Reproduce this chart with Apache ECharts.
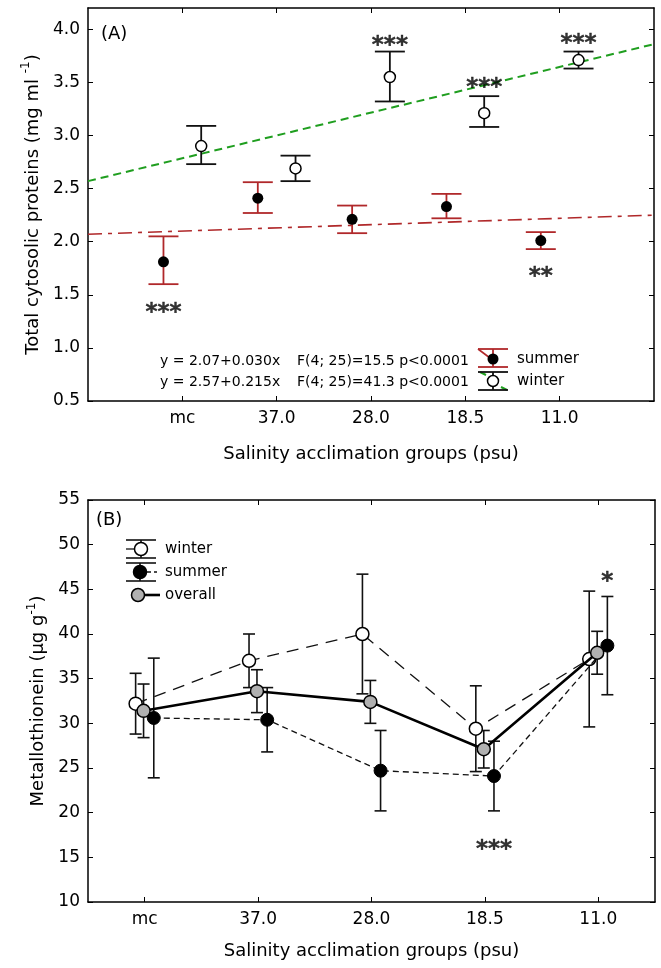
<!DOCTYPE html>
<html>
<head>
<meta charset="utf-8">
<script src="https://cdn.jsdelivr.net/npm/echarts@6/dist/echarts.min.js"></script>
<style>
  html, body { margin: 0; padding: 0; background: #fff; }
  #chart { width: 661px; height: 968px; }
</style>
</head>
<body>
<div id="chart"></div>
<script>
// Salinity acclimation groups (psu)
const categories = ['mc', '37.0', '28.0', '18.5', '11.0'];

// (A) Total cytosolic proteins, mg ml-1: group means with error bar ends
const proteinSummerMean = [1.81, 2.41, 2.21, 2.33, 2.01];
const proteinSummerLow  = [1.60, 2.27, 2.08, 2.22, 1.93];
const proteinSummerHigh = [2.05, 2.56, 2.34, 2.45, 2.09];
const proteinWinterMean = [2.90, 2.69, 3.55, 3.21, 3.71];
const proteinWinterLow  = [2.73, 2.57, 3.32, 3.08, 3.63];
const proteinWinterHigh = [3.09, 2.81, 3.79, 3.37, 3.79];

// (A) Linear fits y = a + b x (x = 1 for mc ... 5 for 11.0)
const fitIntercept = [2.07, 2.57];   // summer, winter
const fitSlope     = [0.030, 0.215]; // summer, winter
const fitLabels = ['y = 2.07+0.030x', 'y = 2.57+0.215x'];
const fitStats  = ['F(4; 25)=15.5 p<0.0001', 'F(4; 25)=41.3 p<0.0001'];

// (A) significance marks
const proteinSummerStars = ['***', '', '', '', '**'];
const proteinSummerStarY = [1.38, null, null, null, 1.72];
const proteinWinterStars = ['', '', '***', '***', '***'];
const proteinWinterStarY = [null, null, 3.90, 3.50, 3.92];

// (B) Metallothionein, ug g-1: means and error half-widths
const mtWinterMean  = [32.2, 37.0, 40.0, 29.4, 37.2];
const mtWinterErr   = [3.4, 3.0, 6.7, 4.8, 7.6];
const mtSummerMean  = [30.6, 30.4, 24.7, 24.1, 38.7];
const mtSummerErr   = [6.7, 3.6, 4.5, 3.9, 5.5];
const mtOverallMean = [31.4, 33.6, 32.4, 27.1, 37.9];
const mtOverallErr  = [3.0, 2.4, 2.4, 2.1, 2.4];

// (B) significance marks
const mtStars = ['', '', '', '***', '*'];
const mtStarY = [null, null, null, 16.5, 46.5];

// Tick values
const proteinTicks = [0.5, 1.0, 1.5, 2.0, 2.5, 3.0, 3.5, 4.0];
const mtTicks = [10, 15, 20, 25, 30, 35, 40, 45, 50, 55];

const FONT = '"DejaVu Sans", sans-serif';
const RED = '#b0282a';
const GREEN = '#1f9e1f';

function errorBars(xi, yi, data, color, capHalf, width, z) {
  return {
    type: 'custom', xAxisIndex: xi, yAxisIndex: yi, z: z, silent: true,
    encode: { x: 0, y: [1, 2] },
    data: data,
    renderItem: function (params, api) {
      const x = api.value(0);
      const lo = api.coord([x, api.value(1)]);
      const hi = api.coord([x, api.value(2)]);
      const st = { stroke: color, lineWidth: width, fill: null };
      return {
        type: 'group',
        children: [
          { type: 'line', shape: { x1: lo[0], y1: lo[1], x2: hi[0], y2: hi[1] }, style: st },
          { type: 'line', shape: { x1: lo[0] - capHalf, y1: lo[1], x2: lo[0] + capHalf, y2: lo[1] }, style: st },
          { type: 'line', shape: { x1: hi[0] - capHalf, y1: hi[1], x2: hi[0] + capHalf, y2: hi[1] }, style: st }
        ]
      };
    }
  };
}

function starSeries(xi, yi, items, z) {
  return {
    type: 'scatter', xAxisIndex: xi, yAxisIndex: yi, z: z, silent: true,
    symbolSize: 2, itemStyle: { color: 'rgba(0,0,0,0)' },
    label: {
      show: true, position: 'inside', formatter: '{b}', offset: [0, 6],
      fontFamily: FONT, fontSize: 23, fontWeight: 'bold', color: '#000',
      textBorderWidth: 0.4, textBorderColor: '#000'
    },
    data: items
  };
}

const offA = 0.2;   // summer left, winter right of each group
const offB = [-0.08, 0.08, -0.01]; // winter, summer, overall

// Panel A series data
const aSummerBars = categories.map((c, i) => [i + 1 - offA, proteinSummerLow[i], proteinSummerHigh[i]]);
const aWinterBars = categories.map((c, i) => [i + 1 + offA, proteinWinterLow[i], proteinWinterHigh[i]]);
const aSummerPts = categories.map((c, i) => [i + 1 - offA, proteinSummerMean[i]]);
const aWinterPts = categories.map((c, i) => [i + 1 + offA, proteinWinterMean[i]]);
const aStars = [];
categories.forEach((c, i) => {
  if (proteinSummerStars[i]) aStars.push({ name: proteinSummerStars[i], value: [i + 1 - offA, proteinSummerStarY[i]] });
  if (proteinWinterStars[i]) aStars.push({ name: proteinWinterStars[i], value: [i + 1 + offA, proteinWinterStarY[i]] });
});
const fitLine = k => [[0, fitIntercept[k]], [6, fitIntercept[k] + fitSlope[k] * 6]];

// Panel B series data
const bPts = (m, o) => categories.map((c, i) => [i + o, m[i]]);
const bBars = (m, e, o) => categories.map((c, i) => [i + o, m[i] - e[i], m[i] + e[i]]);
const bStars = [];
categories.forEach((c, i) => {
  if (mtStars[i]) bStars.push({ name: mtStars[i], value: [i + 0.08, mtStarY[i]] });
});

const tickLabel = { fontFamily: FONT, fontSize: 17, color: '#000' };
const frameLine = { show: true, onZero: false, lineStyle: { color: '#000', width: 1.5 } };
const inTick = vals => ({ show: true, inside: true, length: 5, customValues: vals, lineStyle: { color: '#000', width: 1 } });

function xAx(grid, pos, min, max, vals, show) {
  return {
    type: 'value', gridIndex: grid, position: pos, min: min, max: max,
    axisLine: frameLine, axisTick: inTick(vals), splitLine: { show: false },
    axisLabel: show ? Object.assign({
      customValues: vals, margin: 9,
      formatter: v => categories[Math.round(v) - (min < 0 ? 0 : 1)] || ''
    }, tickLabel) : { show: false },
    name: show ? 'Salinity acclimation groups (psu)' : '',
    nameLocation: 'middle', nameGap: grid === 0 ? 44 : 40,
    nameTextStyle: { fontFamily: FONT, fontSize: 18, color: '#000' }
  };
}
function yAx(grid, pos, min, max, vals, show, name, dec) {
  return {
    type: 'value', gridIndex: grid, position: pos, min: min, max: max,
    axisLine: frameLine, axisTick: inTick(vals), splitLine: { show: false },
    axisLabel: show ? Object.assign({
      customValues: vals, margin: 8, formatter: v => v.toFixed(dec)
    }, tickLabel) : { show: false },
    name: show ? name : '', nameLocation: 'middle', nameRotate: 90, nameGap: 34,
    nameTextStyle: {
      fontFamily: FONT, fontSize: 18, color: '#000',
      rich: {
        t: { fontFamily: FONT, fontSize: 18, color: '#000', lineHeight: 22, verticalAlign: 'bottom' },
        s: { fontFamily: FONT, fontSize: 12, color: '#000', lineHeight: 22, verticalAlign: 'top' }
      }
    }
  };
}

const txt = (x, y, text, size, extra) => ({
  type: 'text', x: x, y: y, silent: true,
  style: Object.assign({ text: text, font: size + 'px ' + FONT, fill: '#000', textVerticalAlign: 'middle' }, extra || {})
});
const seg = (x1, y1, x2, y2, color, w, dash) => ({
  type: 'line', silent: true, shape: { x1, y1, x2, y2 },
  style: { stroke: color, lineWidth: w, lineDash: dash || null }
});
const dot = (cx, cy, r, fill) => ({
  type: 'circle', silent: true, shape: { cx, cy, r },
  style: { fill: fill, stroke: '#000', lineWidth: 1.5 }, z: 10
});

const option = {
  backgroundColor: '#fff',
  animation: false,
  grid: [
    { left: 88, top: 8, width: 566, height: 393 },
    { left: 88, top: 500, width: 567, height: 402 }
  ],
  xAxis: [
    xAx(0, 'bottom', 0, 6, [1, 2, 3, 4, 5], true),
    xAx(0, 'top', 0, 6, [1, 2, 3, 4, 5], false),
    xAx(1, 'bottom', -0.5, 4.5, [0, 1, 2, 3, 4], true),
    xAx(1, 'top', -0.5, 4.5, [0, 1, 2, 3, 4], false)
  ],
  yAxis: [
    yAx(0, 'left', 0.5, 4.2, proteinTicks, true, '{t|Total cytosolic proteins (mg ml }{s|-1}{t|)}', 1),
    yAx(0, 'right', 0.5, 4.2, proteinTicks, false, '', 1),
    yAx(1, 'left', 10, 55, mtTicks, true, '{t|Metallothionein (μg g}{s|-1}{t|)}', 0),
    yAx(1, 'right', 10, 55, mtTicks, false, '', 0)
  ],
  series: [
    // (A) regression lines
    { type: 'line', xAxisIndex: 0, yAxisIndex: 0, z: 1, symbol: 'none', silent: true,
      data: fitLine(0), lineStyle: { color: RED, width: 1.6, type: [14, 6, 4, 6] } },
    { type: 'line', xAxisIndex: 0, yAxisIndex: 0, z: 1, symbol: 'none', silent: true,
      data: fitLine(1), lineStyle: { color: GREEN, width: 2, type: [8, 5] } },
    // (A) error bars and means
    errorBars(0, 0, aSummerBars, RED, 15, 1.8, 2),
    errorBars(0, 0, aWinterBars, '#111', 15, 1.8, 2),
    { type: 'scatter', xAxisIndex: 0, yAxisIndex: 0, z: 3, symbol: 'circle', symbolSize: 11,
      itemStyle: { color: '#000', opacity: 1 }, data: aSummerPts },
    { type: 'scatter', xAxisIndex: 0, yAxisIndex: 0, z: 3, symbol: 'circle', symbolSize: 11,
      itemStyle: { color: '#fff', borderColor: '#000', borderWidth: 1.5, opacity: 1 }, data: aWinterPts },
    starSeries(0, 0, aStars, 4),

    // (B) error bars
    errorBars(2, 2, bBars(mtWinterMean, mtWinterErr, offB[0]), '#111', 6, 1.6, 2),
    errorBars(2, 2, bBars(mtSummerMean, mtSummerErr, offB[1]), '#111', 6, 1.6, 2),
    errorBars(2, 2, bBars(mtOverallMean, mtOverallErr, offB[2]), '#111', 6, 1.6, 2),
    // (B) lines with markers
    { type: 'line', xAxisIndex: 2, yAxisIndex: 2, z: 3, symbol: 'circle', symbolSize: 13,
      lineStyle: { color: '#111', width: 1.3, type: [12, 8] },
      itemStyle: { color: '#fff', borderColor: '#000', borderWidth: 1.5 },
      data: bPts(mtWinterMean, offB[0]) },
    { type: 'line', xAxisIndex: 2, yAxisIndex: 2, z: 4, symbol: 'circle', symbolSize: 13,
      lineStyle: { color: '#111', width: 1.3, type: [6, 4] },
      itemStyle: { color: '#000', borderColor: '#000', borderWidth: 1 },
      data: bPts(mtSummerMean, offB[1]) },
    { type: 'line', xAxisIndex: 2, yAxisIndex: 2, z: 5, symbol: 'circle', symbolSize: 13,
      lineStyle: { color: '#000', width: 2.6 },
      itemStyle: { color: '#b0b0b0', borderColor: '#000', borderWidth: 1.5 },
      data: bPts(mtOverallMean, offB[2]) },
    starSeries(2, 2, bStars, 6)
  ],
  graphic: [
    txt(101, 34, '(A)', 18),
    txt(96, 520, '(B)', 18),
    // fit equations
    txt(160, 361, fitLabels[0], 14),
    txt(297, 361, fitStats[0], 14),
    txt(160, 382, fitLabels[1], 14),
    txt(297, 382, fitStats[1], 14),
    // (A) legend: summer
    seg(478, 349, 490, 358, RED, 1.6),
    seg(478, 349, 508, 349, RED, 1.8),
    seg(478, 367, 508, 367, RED, 1.8),
    seg(493, 349, 493, 367, RED, 1.8),
    { type: 'circle', silent: true, shape: { cx: 493, cy: 359, r: 5.5 }, style: { fill: '#000' }, z: 10 },
    txt(517, 359, 'summer', 15),
    // (A) legend: winter
    seg(480, 372, 486, 375, GREEN, 2),
    seg(501, 387, 507, 390, GREEN, 2),
    seg(478, 372, 508, 372, '#111', 1.8),
    seg(478, 390, 508, 390, '#111', 1.8),
    seg(493, 372, 493, 390, '#111', 1.8),
    dot(493, 381, 5.5, '#fff'),
    txt(517, 381, 'winter', 15),
    // (B) legend: winter
    seg(126, 549, 141, 549, '#111', 1.3),
    seg(126, 540, 156, 540, '#111', 1.6),
    seg(126, 558, 156, 558, '#111', 1.6),
    seg(141, 540, 141, 558, '#111', 1.6),
    dot(141, 549, 6.5, '#fff'),
    txt(165, 549, 'winter', 15),
    // (B) legend: summer
    seg(140, 572, 157, 572, '#111', 1.3, [4, 3]),
    seg(126, 563, 156, 563, '#111', 1.6),
    seg(126, 581, 156, 581, '#111', 1.6),
    seg(140, 563, 140, 581, '#111', 1.6),
    dot(140, 572, 6.5, '#000'),
    txt(165, 572, 'summer', 15),
    // (B) legend: overall
    seg(138, 595, 160, 595, '#000', 2.6),
    dot(138, 595, 6.5, '#b0b0b0'),
    txt(165, 595, 'overall', 15)
  ]
};

const chart = echarts.init(document.getElementById('chart'), null, { renderer: 'canvas' });
chart.setOption(option);
</script>
</body>
</html>
